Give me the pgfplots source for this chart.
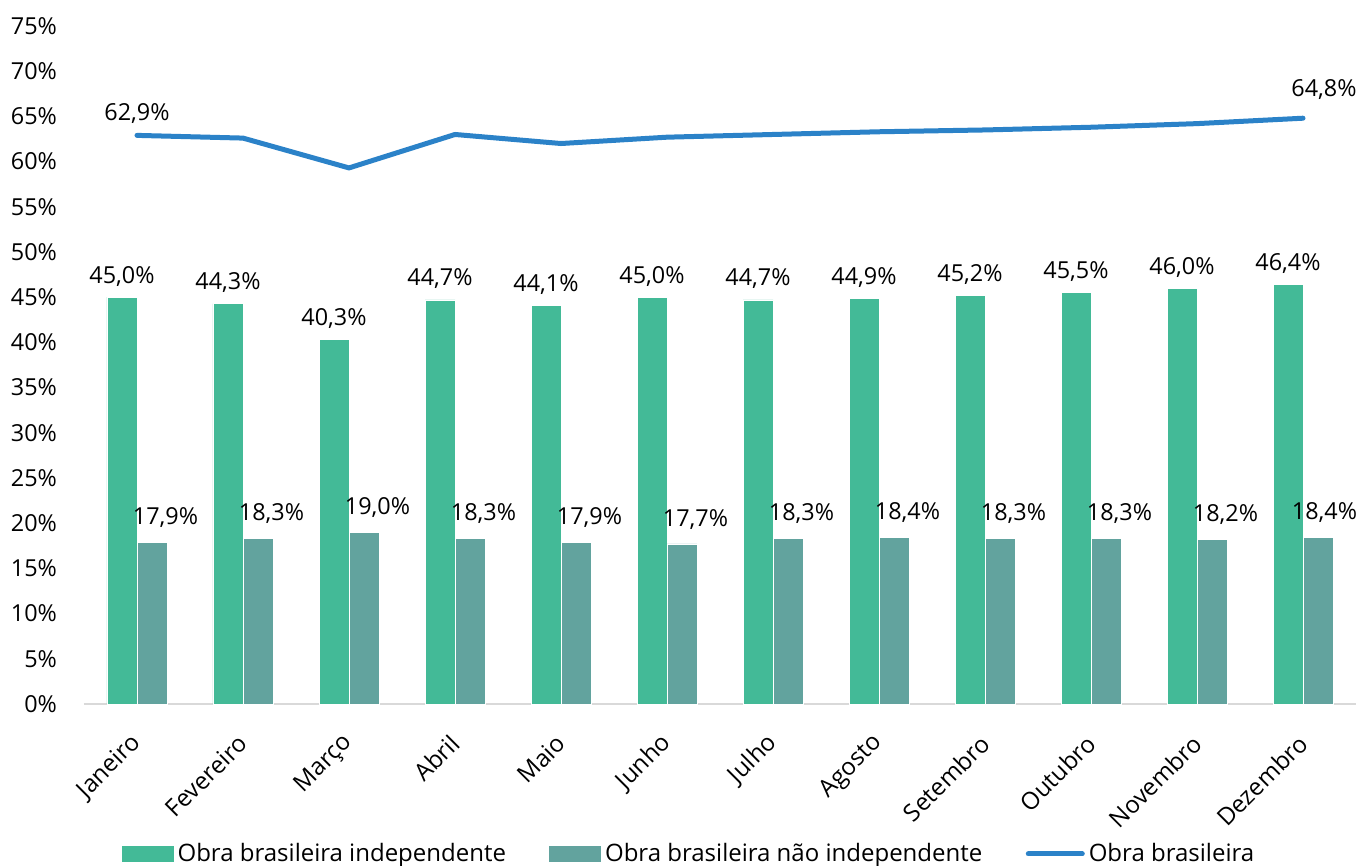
\documentclass[border=0pt]{standalone}
\usepackage{pgfplots}
\pgfplotsset{compat=1.18}
\usepackage{fontspec}
\setmainfont{Open Sans}
\definecolor{cgreen}{HTML}{43BA97}
\definecolor{cteal}{HTML}{62A39E}
\definecolor{cblue}{HTML}{2B82C8}
\definecolor{caxis}{HTML}{D9D9D9}
\begin{document}
\begin{tikzpicture}[font=\fontsize{11.7pt}{14pt}\selectfont]
\begin{axis}[
  scale only axis, width=636pt, height=339pt,
  xmin=-0.5, xmax=11.5, ymin=0, ymax=75,
  axis x line*=bottom, axis y line*=left,
  y axis line style={draw=none},
  x axis line style={draw=caxis, line width=1pt, -},
  major tick length=0pt,
  ytick={0,5,...,75},
  yticklabel={\pgfmathprintnumber{\tick}\%},
  /pgf/number format/assume math mode=true,
  yticklabel style={anchor=east, xshift=-10pt},
  xtick={0,...,11},
  xticklabels={Janeiro,Fevereiro,Março,Abril,Maio,Junho,Julho,Agosto,Setembro,Outubro,Novembro,Dezembro},
  xticklabel style={rotate=45, anchor=east, xshift=-9pt, yshift=-12.5pt, font=\fontsize{12pt}{14pt}\selectfont},
  ybar=0pt, bar width=15pt,
  legend columns=3,
  legend style={draw=none, fill=none, at={(0.4765,0)}, anchor=center, yshift=-75pt,
    /tikz/every even column/.append style={column sep=19.75pt},
    font=\fontsize{12pt}{14pt}\selectfont},
  clip=false,
]
\addplot[fill=cgreen, draw=white, line width=0.3pt,
  legend image code/.code={\fill[cgreen] (0pt,-3.75pt) rectangle (25.5pt,3.75pt);},
  nodes near coords={\pgfmathprintnumber[fixed,fixed zerofill,precision=1,use comma]{\pgfplotspointmeta}\%},
  nodes near coords style={anchor=south, yshift=2pt, text=black}]
  coordinates {(0,45.0) (1,44.3) (2,40.3) (3,44.7) (4,44.1) (5,45.0) (6,44.7) (7,44.9) (8,45.2) (9,45.5) (10,46.0) (11,46.4)};
\addlegendentry{Obra brasileira independente}
\addplot[fill=cteal, draw=white, line width=0.3pt,
  legend image code/.code={\fill[cteal] (0pt,-3.75pt) rectangle (25.5pt,3.75pt);},
  visualization depends on={value \coordindex \as \myidx},
  nodes near coords={\pgfmathprintnumber[fixed,fixed zerofill,precision=1,use comma]{\pgfplotspointmeta}\%},
  nodes near coords style={anchor=south, yshift=4pt, xshift={(\myidx==11 ? 3.25 : 6.75)*1pt}, text=black}]
  coordinates {(0,17.9) (1,18.3) (2,19.0) (3,18.3) (4,17.9) (5,17.7) (6,18.3) (7,18.4) (8,18.3) (9,18.3) (10,18.2) (11,18.4)};
\addlegendentry{Obra brasileira não independente}
\addplot[sharp plot, draw=cblue, line width=2.5pt, line cap=round, line join=round, mark=none,
  legend image code/.code={\draw[cblue, line width=2.5pt, line cap=round] (0pt,0pt) -- (27pt,0pt);}]
  coordinates {(0,62.9) (1,62.6) (2,59.3) (3,63.0) (4,62.0) (5,62.7) (6,63.0) (7,63.3) (8,63.5) (9,63.8) (10,64.2) (11,64.8)};
\addlegendentry{Obra brasileira}
\addplot[forget plot, only marks, mark=none, draw=none, bar shift=0pt,
  nodes near coords={\pgfmathprintnumber[fixed,fixed zerofill,precision=1,use comma]{\pgfplotspointmeta}\%},
  nodes near coords style={anchor=center, yshift=11pt, text=black}]
  coordinates {(0,62.9)};
\addplot[forget plot, only marks, mark=none, draw=none, bar shift=0pt,
  nodes near coords={\pgfmathprintnumber[fixed,fixed zerofill,precision=1,use comma]{\pgfplotspointmeta}\%},
  nodes near coords style={anchor=center, yshift=14.5pt, xshift=10.5pt, text=black}]
  coordinates {(11,64.8)};
\path (rel axis cs:0,0) ++(-42pt,-81pt) coordinate (bl);
\path (rel axis cs:1,1) ++(2pt,13pt) coordinate (tr);
\end{axis}
\pgfresetboundingbox
\path[use as bounding box] (bl) rectangle (tr);
\end{tikzpicture}
\end{document}
